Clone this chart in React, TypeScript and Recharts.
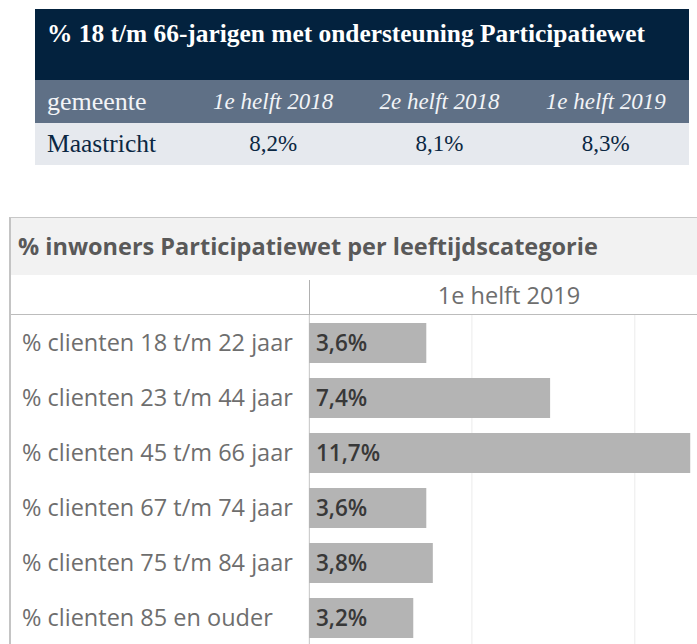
import React from 'react';
import { BarChart, Bar, XAxis, YAxis, CartesianGrid, LabelList } from 'recharts';

const tableTitle = '% 18 t/m 66-jarigen met ondersteuning Participatiewet';
const periods = ['1e helft 2018', '2e helft 2018', '1e helft 2019'];
const municipality = 'Maastricht';
const municipalityShares = [8.2, 8.1, 8.3];

const chartTitle = '% inwoners Participatiewet per leeftijdscategorie';
const chartPeriod = '1e helft 2019';
const ageGroups = [
  '% clienten 18 t/m 22 jaar',
  '% clienten 23 t/m 44 jaar',
  '% clienten 45 t/m 66 jaar',
  '% clienten 67 t/m 74 jaar',
  '% clienten 75 t/m 84 jaar',
  '% clienten 85 en ouder',
];
const ageShares = [3.6, 7.4, 11.7, 3.6, 3.8, 3.2];
const gridTicks = [0, 5, 10];

const fmt = (v: number) => `${v.toFixed(1).replace('.', ',')}%`;

const data = ageGroups.map((group, i) => ({ group, value: ageShares[i] }));

const serif = '"Liberation Serif", serif';
const sans = '"Open Sans", sans-serif';

const CategoryTick = (props: any) => {
  const { y, payload } = props;
  return (
    <text x={22} y={y} dy="0.36em" textAnchor="start" fill="#6e6e6e" fontSize={23.5} fontFamily={sans}>
      {payload.value}
    </text>
  );
};

const SummaryTable = () => {
  const firstCol = 155;
  const colW = (654 - firstCol) / 3;
  return (
    <div style={{ position: 'absolute', left: 35, top: 9, width: 654, fontFamily: serif }}>
      <div
        style={{
          height: 71,
          background: '#03223e',
          color: '#ffffff',
          fontWeight: 'bold',
          fontSize: 25.4,
          lineHeight: '48px',
          paddingLeft: 12,
          whiteSpace: 'nowrap',
        }}
      >
        {tableTitle}
      </div>
      <div style={{ height: 43, background: '#5f7086', color: '#f2f4f7', display: 'flex', fontSize: 23, lineHeight: '43px' }}>
        <div style={{ width: firstCol - 12, paddingLeft: 12, fontSize: 26 }}>gemeente</div>
        {periods.map(p => (
          <div key={p} style={{ width: colW, textAlign: 'center', fontStyle: 'italic' }}>
            {p}
          </div>
        ))}
      </div>
      <div style={{ height: 42, background: '#e6e9ee', color: '#0b2742', display: 'flex', fontSize: 23, lineHeight: '42px' }}>
        <div style={{ width: firstCol - 12, paddingLeft: 12, fontSize: 25.5 }}>{municipality}</div>
        {municipalityShares.map((v, i) => (
          <div key={i} style={{ width: colW, textAlign: 'center' }}>
            {fmt(v)}
          </div>
        ))}
      </div>
    </div>
  );
};

export default function App() {
  return (
    <div
      style={{
        position: 'fixed',
        left: 0,
        top: 0,
        width: 697,
        height: 644,
        overflow: 'hidden',
        background: '#ffffff',
      }}
    >
      <SummaryTable />

      {/* chart frame */}
      <div
        style={{
          position: 'absolute',
          left: 9,
          top: 217,
          width: 720,
          height: 440,
          borderTop: '1px solid #c8c8c8',
          borderLeft: '2px solid #c4c4c4',
          fontFamily: sans,
        }}
      >
        <div
          style={{
            height: 57,
            background: '#f2f2f2',
            color: '#595959',
            fontWeight: 700,
            fontSize: 23.5,
            lineHeight: '56px',
            paddingLeft: 7,
            whiteSpace: 'nowrap',
          }}
        >
          {chartTitle}
        </div>
        <div style={{ position: 'absolute', left: 298, top: 57, width: 400, height: 39, lineHeight: '40px', textAlign: 'center', color: '#6e6e6e', fontSize: 23.5 }}>
          {chartPeriod}
        </div>
        <div style={{ position: 'absolute', left: 0, top: 96, width: 720, height: 1, background: '#bcbcbc' }} />
        <div style={{ position: 'absolute', left: 298, top: 62, width: 1, height: 400, background: '#b0b0b0' }} />
      </div>

      <div style={{ position: 'absolute', left: 0, top: 315 }}>
        <BarChart
          width={710}
          height={330}
          data={data}
          layout="vertical"
          margin={{ top: 0, right: 10, bottom: 0, left: 0 }}
        >
          <CartesianGrid horizontal={false} stroke="#ebebeb" strokeWidth={1} />
          <XAxis type="number" domain={[0, 12]} ticks={gridTicks} hide />
          <YAxis
            type="category"
            dataKey="group"
            width={309}
            axisLine={false}
            tickLine={false}
            tick={<CategoryTick />}
          />
          <Bar dataKey="value" fill="#b4b4b4" barSize={40} isAnimationActive={false}>
            <LabelList
              dataKey="value"
              position="insideLeft"
              offset={7}
              formatter={(v: any) => fmt(Number(v))}
              fill="#383838"
              fontSize={22.5}
              fontWeight={600}
              fontFamily={sans}
            />
          </Bar>
        </BarChart>
      </div>
    </div>
  );
}
